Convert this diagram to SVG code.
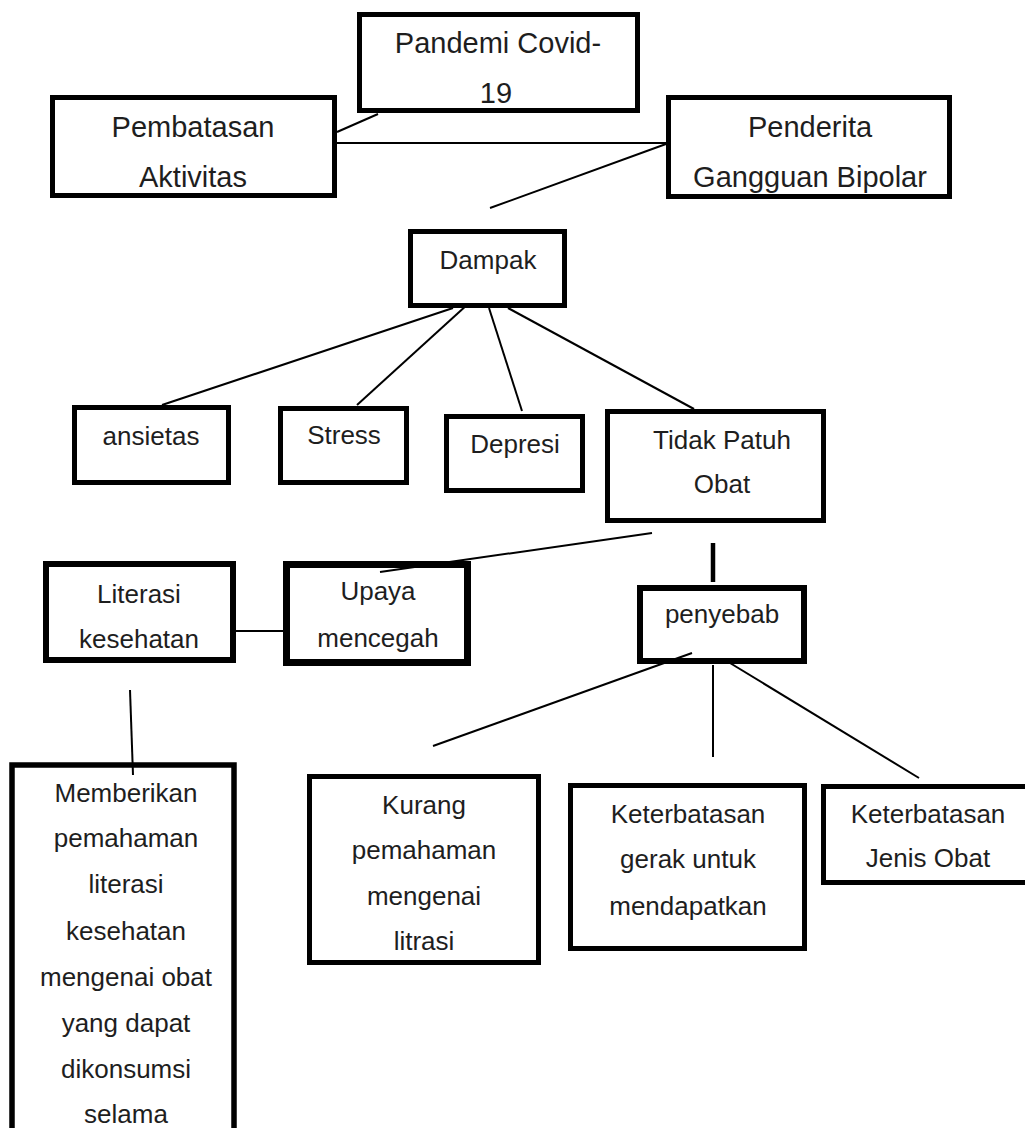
<svg xmlns="http://www.w3.org/2000/svg" width="1025" height="1128" viewBox="0 0 1025 1128">
<style>
.box{fill:#fff;stroke:#000;stroke-width:5}
.t{font-family:"Liberation Sans",Arial,sans-serif;font-size:26px;fill:#1e1e1e;text-anchor:middle}
.tl{font-size:29px}
.c line{stroke:#000;stroke-width:2}
</style>
<rect width="1025" height="1128" fill="#fff"/>
<g id="pandemi">
<rect class="box" x="359.5" y="14.5" width="278" height="96"/>
<text class="t tl" x="498" y="53">Pandemi Covid-</text>
<text class="t tl" x="496" y="103">19</text>
</g>
<g id="pembatasan">
<rect class="box" x="52.5" y="97.5" width="282" height="98"/>
<text class="t tl" x="193" y="137">Pembatasan</text>
<text class="t tl" x="193" y="187">Aktivitas</text>
</g>
<g id="penderita">
<rect class="box" x="668.5" y="97.5" width="281" height="99"/>
<text class="t tl" x="810" y="137">Penderita</text>
<text class="t tl" x="810" y="187">Gangguan Bipolar</text>
</g>
<g id="dampak">
<rect class="box" x="410.5" y="231.5" width="154" height="74"/>
<text class="t" x="488" y="269">Dampak</text>
</g>
<g id="ansietas">
<rect class="box" x="74.5" y="407.5" width="154" height="75"/>
<text class="t" x="151" y="445">ansietas</text>
</g>
<g id="stress">
<rect class="box" x="280.5" y="408.5" width="126" height="74"/>
<text class="t" x="344" y="444">Stress</text>
</g>
<g id="depresi">
<rect class="box" x="446.5" y="416.5" width="136" height="74"/>
<text class="t" x="515" y="453">Depresi</text>
</g>
<g id="tidak-patuh">
<rect class="box" x="607.5" y="411.5" width="216" height="109"/>
<text class="t" x="722" y="449">Tidak Patuh</text>
<text class="t" x="722" y="493">Obat</text>
</g>
<g id="literasi">
<rect class="box" x="46" y="564" width="187" height="96" style="stroke-width:6"/>
<text class="t" x="139" y="603">Literasi</text>
<text class="t" x="139" y="648">kesehatan</text>
</g>
<g id="upaya">
<rect class="box" x="286.5" y="564.5" width="181" height="98" style="stroke-width:7"/>
<text class="t" x="378" y="600">Upaya</text>
<text class="t" x="378" y="647">mencegah</text>
</g>
<g id="penyebab">
<rect class="box" x="640" y="588" width="164" height="73" style="stroke-width:6"/>
<text class="t" x="722" y="623">penyebab</text>
</g>
<g id="memberikan">
<rect class="box" x="12" y="765" width="222" height="400" style="stroke-width:5.5"/>
<text class="t" x="126" y="802">Memberikan</text>
<text class="t" x="126" y="847">pemahaman</text>
<text class="t" x="126" y="893">literasi</text>
<text class="t" x="126" y="940">kesehatan</text>
<text class="t" x="126" y="986">mengenai obat</text>
<text class="t" x="126" y="1032">yang dapat</text>
<text class="t" x="126" y="1078">dikonsumsi</text>
<text class="t" x="126" y="1123">selama</text>
</g>
<g id="kurang">
<rect class="box" x="309.5" y="776.5" width="229" height="186"/>
<text class="t" x="424" y="814">Kurang</text>
<text class="t" x="424" y="859">pemahaman</text>
<text class="t" x="424" y="905">mengenai</text>
<text class="t" x="424" y="950">litrasi</text>
</g>
<g id="keterbatasan-gerak">
<rect class="box" x="570.5" y="785.5" width="234" height="163"/>
<text class="t" x="688" y="823">Keterbatasan</text>
<text class="t" x="688" y="868">gerak untuk</text>
<text class="t" x="688" y="915">mendapatkan</text>
</g>
<g id="keterbatasan-jenis">
<rect class="box" x="823.5" y="786.5" width="205" height="96"/>
<text class="t" x="928" y="823">Keterbatasan</text>
<text class="t" x="928" y="867">Jenis Obat</text>
</g>
<g id="connectors" class="c">
<line x1="337" y1="132" x2="378" y2="114"/>
<line x1="337" y1="143" x2="666" y2="143"/>
<line x1="666" y1="144" x2="490" y2="208"/>
<line x1="453" y1="308" x2="162" y2="405"/>
<line x1="468" y1="304" x2="357" y2="405"/>
<line x1="489" y1="308" x2="522" y2="411"/>
<line x1="508" y1="308" x2="694" y2="409"/>
<line x1="652" y1="533" x2="380" y2="572"/>
<line x1="713" y1="543" x2="713" y2="582" style="stroke-width:4.5"/>
<line x1="236" y1="631" x2="283" y2="631"/>
<line x1="130" y1="690" x2="133" y2="775"/>
<line x1="692" y1="653" x2="433" y2="746"/>
<line x1="713" y1="665" x2="713" y2="757"/>
<line x1="730" y1="663" x2="919" y2="778"/>
</g>
</svg>
